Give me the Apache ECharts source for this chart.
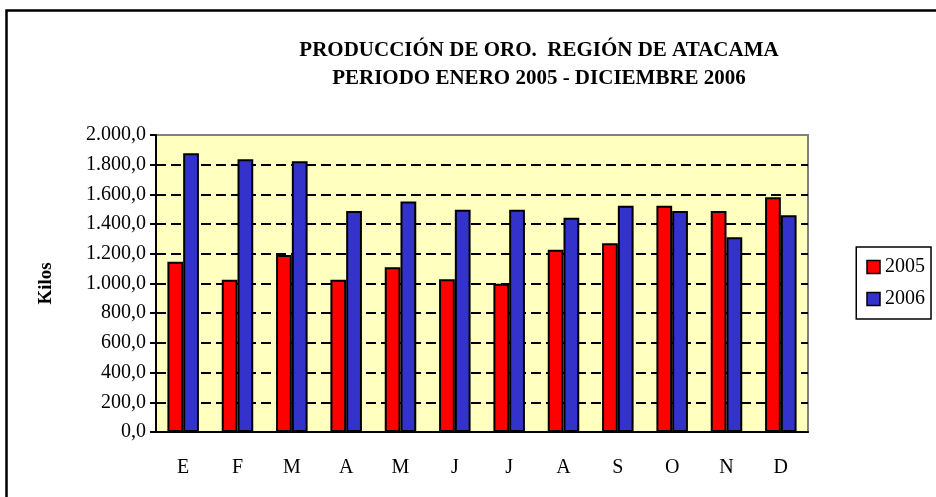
<!DOCTYPE html>
<html>
<head>
<meta charset="utf-8">
<script src="https://cdn.jsdelivr.net/npm/echarts@6/dist/echarts.min.js"></script>
<style>
  html, body { margin: 0; padding: 0; background: #fff; }
  #chart { width: 936px; height: 497px; }
</style>
</head>
<body>
<div id="chart"></div>
<script>
const months = ['E', 'F', 'M', 'A', 'M', 'J', 'J', 'A', 'S', 'O', 'N', 'D']
const prod2005 = [1147, 1026, 1192, 1026, 1110, 1028, 999, 1228, 1271, 1524, 1488, 1580]
const prod2006 = [1877, 1836, 1823, 1488, 1553, 1497, 1497, 1443, 1524, 1488, 1311, 1459]
const titleLines = ['PRODUCCIÓN DE ORO.  REGIÓN DE ATACAMA', 'PERIODO ENERO 2005 - DICIEMBRE 2006']

const serif = '"Liberation Serif", "Times New Roman", serif'

function fmtKilos(v) {
  const parts = v.toFixed(1).split('.')
  const int = parts[0].replace(/\B(?=(\d{3})+(?!\d))/g, '.')
  return int + ',' + parts[1]
}

const chart = echarts.init(document.getElementById('chart'))

// dashed black gridlines, the top one grey like the plot border
const splitColors = Array(10).fill('#000').concat(['#808080'])

const option = {
  backgroundColor: '#fff',
  animation: false,
  title: {
    text: titleLines.join('\n'),
    left: 534,
    top: 32,
    textAlign: 'center',
    textStyle: {
      fontFamily: serif,
      fontWeight: 'bold',
      fontSize: 21,
      lineHeight: 28,
      color: '#000'
    }
  },
  legend: {
    orient: 'vertical',
    right: 5,
    top: 247,
    icon: 'rect',
    itemWidth: 13,
    itemHeight: 13,
    itemGap: 12,
    padding: [10, 6, 10, 10],
    borderColor: '#000',
    borderWidth: 1.5,
    backgroundColor: '#fff',
    itemStyle: { borderColor: '#000', borderWidth: 1.5 },
    textStyle: { fontFamily: serif, fontSize: 20, color: '#000' },
    data: ['2005', '2006']
  },
  grid: {
    left: 156,
    right: 128,
    top: 135,
    bottom: 65,
    show: true,
    backgroundColor: '#FFFFC0',
    borderColor: '#808080',
    borderWidth: 2
  },
  xAxis: {
    type: 'category',
    data: months,
    axisLine: { lineStyle: { color: '#000', width: 2 } },
    axisTick: { length: 7, lineStyle: { color: '#000', width: 2 } },
    axisLabel: { fontFamily: serif, fontSize: 20, color: '#000', margin: 26 }
  },
  yAxis: {
    type: 'value',
    min: 0,
    max: 2000,
    interval: 200,
    name: 'Kilos',
    nameLocation: 'middle',
    nameGap: 100,
    nameRotate: 90,
    nameTextStyle: { fontFamily: serif, fontWeight: 'bold', fontSize: 19, color: '#000' },
    axisLine: { show: true, lineStyle: { color: '#000', width: 2 } },
    axisTick: { show: true, length: 6, lineStyle: { color: '#000', width: 2 } },
    axisLabel: { fontFamily: serif, fontSize: 20, color: '#000', margin: 10, formatter: fmtKilos },
    splitLine: { lineStyle: { color: splitColors, type: [10, 5], width: 2 } }
  },
  series: [
    {
      name: '2005',
      type: 'bar',
      data: prod2005,
      barGap: '0%',
      barCategoryGap: '42%',
      itemStyle: { color: '#FF0000', borderColor: '#000', borderWidth: 2 }
    },
    {
      name: '2006',
      type: 'bar',
      data: prod2006,
      itemStyle: { color: '#3333CC', borderColor: '#000', borderWidth: 2 }
    }
  ],
  graphic: [
    {
      type: 'rect',
      left: 4,
      top: 8,
      shape: { width: 945, height: 500 },
      style: { fill: 'none', stroke: '#000', lineWidth: 2.5 },
      z: 100
    }
  ]
}

chart.setOption(option)
</script>
</body>
</html>
